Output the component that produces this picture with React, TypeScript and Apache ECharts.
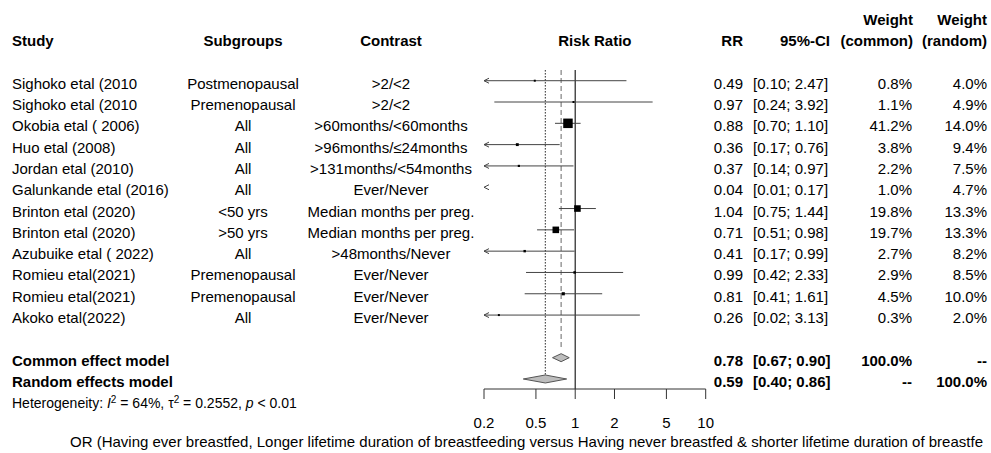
import React, { useEffect, useRef } from "react";
import * as echarts from "echarts";

const studies = [
  "Sighoko etal (2010", "Sighoko etal (2010", "Okobia etal ( 2006)", "Huo etal (2008)",
  "Jordan etal (2010)", "Galunkande etal (2016)", "Brinton etal (2020)", "Brinton etal (2020)",
  "Azubuike etal ( 2022)", "Romieu etal(2021)", "Romieu etal(2021)", "Akoko etal(2022)",
];
const subgroups = [
  "Postmenopausal", "Premenopausal", "All", "All", "All", "All", "<50 yrs", ">50 yrs",
  "All", "Premenopausal", "Premenopausal", "All",
];
const contrasts = [
  ">2/<2", ">2/<2", ">60months/<60months", ">96months/≤24months", ">131months/<54months",
  "Ever/Never", "Median months per preg.", "Median months per preg.", ">48months/Never",
  "Ever/Never", "Ever/Never", "Ever/Never",
];
const rr = [0.49, 0.97, 0.88, 0.36, 0.37, 0.04, 1.04, 0.71, 0.41, 0.99, 0.81, 0.26];
const lower = [0.10, 0.24, 0.70, 0.17, 0.14, 0.01, 0.75, 0.51, 0.17, 0.42, 0.41, 0.02];
const upper = [2.47, 3.92, 1.10, 0.76, 0.97, 0.17, 1.44, 0.98, 0.99, 2.33, 1.61, 3.13];
const weightCommon = [0.8, 1.1, 41.2, 3.8, 2.2, 1.0, 19.8, 19.7, 2.7, 2.9, 4.5, 0.3];
const weightRandom = [4.0, 4.9, 14.0, 9.4, 7.5, 4.7, 13.3, 13.3, 8.2, 8.5, 10.0, 2.0];

const pooledLabels = ["Common effect model", "Random effects model"];
const pooledRR = [0.78, 0.59];
const pooledLower = [0.67, 0.40];
const pooledUpper = [0.90, 0.86];
const pooledWeightCommon = ["100.0%", "--"];
const pooledWeightRandom = ["--", "100.0%"];

const xTicks = [0.2, 0.5, 1, 2, 5, 10];
const xMin = 0.2;
const xMax = 10;
// the reference shows this label cut at the right edge of the picture
const xAxisLabel =
  "OR (Having ever breastfed, Longer lifetime duration of breastfeeding versus Having never breastfed & shorter lifetime duration of breastfe";

const FONT = "'Liberation Sans', Arial, sans-serif";
const FS = 15;
const TXT = "#000";
const LINE = "#444";
const TEXT_DY = 2.5;

const AXIS_ROW = 15.47;
const TOP_ROW = 0.5;

function txt(text: string, x: number, y: number, align: string, bold = false, size = FS) {
  return {
    type: "text",
    style: {
      text,
      x,
      y,
      align,
      verticalAlign: "middle",
      fill: TXT,
      fontSize: size,
      fontFamily: FONT,
      fontWeight: bold ? "bold" : "normal",
    },
  };
}

export default function App() {
  const ref = useRef<HTMLDivElement>(null);
  useEffect(() => {
    if (!ref.current) return;
    const chart = echarts.init(ref.current, undefined, { renderer: "svg" });
    const maxW = Math.max(...weightCommon);

    const option: any = {
      animation: false,
      grid: { left: 484, right: 285.3, top: 59.4, bottom: 64 },
      xAxis: { type: "log", logBase: 10, min: xMin, max: xMax, show: false },
      yAxis: { type: "value", min: 0, max: AXIS_ROW, inverse: true, show: false },
      series: [
        {
          type: "custom",
          silent: true,
          clip: false,
          data: [[1, TOP_ROW]],
          renderItem: (_p: any, api: any) => {
            const yTop = api.coord([1, TOP_ROW])[1];
            const yAxis = api.coord([1, AXIS_ROW])[1];
            const yCommon = api.coord([1, 13.6])[1];
            const yRandom = api.coord([1, 14.8])[1];
            const x1 = api.coord([1, TOP_ROW])[0];
            const xc = api.coord([pooledRR[0], TOP_ROW])[0];
            const xr = api.coord([pooledRR[1], TOP_ROW])[0];
            return {
              type: "group",
              children: [
                { type: "line", shape: { x1: x1, y1: yTop, x2: x1, y2: yAxis }, style: { stroke: "#222", lineWidth: 1.2 } },
                { type: "line", shape: { x1: xc, y1: yTop, x2: xc, y2: yCommon }, style: { stroke: "#808080", lineWidth: 1.2, lineDash: [5, 3] } },
                { type: "line", shape: { x1: xr, y1: yTop, x2: xr, y2: yRandom }, style: { stroke: "#222", lineWidth: 1, lineDash: [1.5, 1.5] } },
              ],
            };
          },
        },
        {
          type: "custom",
          silent: true,
          clip: false,
          data: rr.map((r, i) => [r, i + 1]),
          renderItem: (params: any, api: any) => {
            const i = params.dataIndex;
            const v = api.value(1);
            const y = api.coord([1, v])[1];
            const xAt = (val: number) => api.coord([val, v])[0];
            const xL = xAt(xMin);
            const xR = xAt(xMax);
            const children: any[] = [];
            const lo = lower[i];
            const hi = upper[i];
            const est = rr[i];
            const arrowL = (x: number) => ({
              type: "polyline",
              shape: { points: [[x + 5, y - 2.5], [x, y], [x + 5, y + 2.5]] },
              style: { stroke: LINE, lineWidth: 1, fill: null },
            });
            if (hi < xMin) {
              children.push(arrowL(xL));
            } else {
              const a = Math.max(lo, xMin);
              const b = Math.min(hi, xMax);
              children.push({
                type: "line",
                shape: { x1: xAt(a), y1: y, x2: xAt(b), y2: y },
                style: { stroke: LINE, lineWidth: 1 },
              });
              if (lo < xMin) children.push(arrowL(xL));
              if (hi > xMax)
                children.push({
                  type: "polyline",
                  shape: { points: [[xR - 5, y - 2.5], [xR, y], [xR - 5, y + 2.5]] },
                  style: { stroke: LINE, lineWidth: 1, fill: null },
                });
            }
            if (est >= xMin && est <= xMax) {
              const s = Math.max(2, 9.5 * Math.sqrt(weightCommon[i] / maxW));
              children.push({
                type: "rect",
                shape: { x: xAt(est) - s / 2, y: y - s / 2, width: s, height: s },
                style: { fill: "#000" },
              });
            }
            const ty = y + TEXT_DY;
            children.push(txt(studies[i], 12, ty, "left"));
            children.push(txt(subgroups[i], 243, ty, "center"));
            children.push(txt(contrasts[i], 391, ty, "center"));
            children.push(txt(est.toFixed(2), 743, ty, "right"));
            children.push(txt(`[${lo.toFixed(2)}; ${hi.toFixed(2)}]`, 753, ty, "left"));
            children.push(txt(`${weightCommon[i].toFixed(1)}%`, 912, ty, "right"));
            children.push(txt(`${weightRandom[i].toFixed(1)}%`, 987, ty, "right"));
            return { type: "group", children };
          },
        },
        {
          type: "custom",
          silent: true,
          clip: false,
          data: pooledRR.map((r, i) => [r, 14 + i]),
          renderItem: (params: any, api: any) => {
            const i = params.dataIndex;
            const v = api.value(1);
            const y = api.coord([1, v])[1];
            const xAt = (val: number) => api.coord([val, v])[0];
            const xl = xAt(pooledLower[i]);
            const xm = xAt(pooledRR[i]);
            const xh = xAt(pooledUpper[i]);
            const ty = y + TEXT_DY;
            return {
              type: "group",
              children: [
                {
                  type: "polygon",
                  shape: { points: [[xl, y], [xm, y - 4], [xh, y], [xm, y + 4]] },
                  style: { fill: "#bdbdbd", stroke: "#555", lineWidth: 1 },
                },
                txt(pooledLabels[i], 12, ty, "left", true),
                txt(pooledRR[i].toFixed(2), 743, ty, "right", true),
                txt(`[${pooledLower[i].toFixed(2)}; ${pooledUpper[i].toFixed(2)}]`, 753, ty, "left", true),
                txt(pooledWeightCommon[i], 912, ty, "right", true),
                txt(pooledWeightRandom[i], 987, ty, "right", true),
              ],
            };
          },
        },
        {
          type: "custom",
          silent: true,
          clip: false,
          data: xTicks.map((t) => [t, AXIS_ROW]),
          renderItem: (params: any, api: any) => {
            const t = api.value(0);
            const [x, y] = api.coord([t, AXIS_ROW]);
            const children: any[] = [
              { type: "line", shape: { x1: x, y1: y, x2: x, y2: y + 10 }, style: { stroke: "#333", lineWidth: 1 } },
              txt(String(t), x, y + 33.5, "center"),
            ];
            if (params.dataIndex === 0) {
              const xr = api.coord([xMax, AXIS_ROW])[0];
              children.push({ type: "line", shape: { x1: x, y1: y, x2: xr, y2: y }, style: { stroke: "#333", lineWidth: 1 } });
              children.push(txt(xAxisLabel, 70, y + 52.5, "left"));
            }
            return { type: "group", children };
          },
        },
        {
          type: "custom",
          silent: true,
          clip: false,
          data: [[1, -1]],
          renderItem: (_p: any, api: any) => {
            const yH2 = api.coord([1, -1])[1] + TEXT_DY;
            const yH1 = api.coord([1, -2])[1] + TEXT_DY;
            const yHet = api.coord([1, 16])[1] + TEXT_DY;
            const xCenter = (api.coord([xMin, 0])[0] + api.coord([xMax, 0])[0]) / 2;
            return {
              type: "group",
              children: [
                txt("Study", 12, yH2, "left", true),
                txt("Subgroups", 243, yH2, "center", true),
                txt("Contrast", 391, yH2, "center", true),
                txt("Risk Ratio", xCenter, yH2, "center", true),
                txt("RR", 743, yH2, "right", true),
                txt("95%-CI", 830, yH2, "right", true),
                txt("Weight", 913, yH1, "right", true),
                txt("(common)", 913, yH2, "right", true),
                txt("Weight", 987, yH1, "right", true),
                txt("(random)", 987, yH2, "right", true),
                {
                  type: "text",
                  style: {
                    x: 12,
                    y: yHet,
                    align: "left",
                    verticalAlign: "middle",
                    fill: TXT,
                    fontSize: 14,
                    fontFamily: FONT,
                    text: "Heterogeneity: {i|I}{s|2} = 64%, τ{s|2} = 0.2552, {i|p} < 0.01",
                    lineHeight: 16,
                    rich: {
                      i: { fontStyle: "italic", fontSize: 14, fontFamily: FONT, fill: TXT, lineHeight: 16 },
                      s: { fontSize: 10, fontFamily: FONT, fill: TXT, verticalAlign: "top", lineHeight: 16 },
                    },
                  },
                },
              ],
            };
          },
        },
      ],
    };
    chart.setOption(option);
    return () => chart.dispose();
  }, []);
  return (
    <div
      ref={ref}
      style={{ position: "fixed", left: 0, top: 0, width: 991, height: 453, background: "#fff" }}
    />
  );
}
